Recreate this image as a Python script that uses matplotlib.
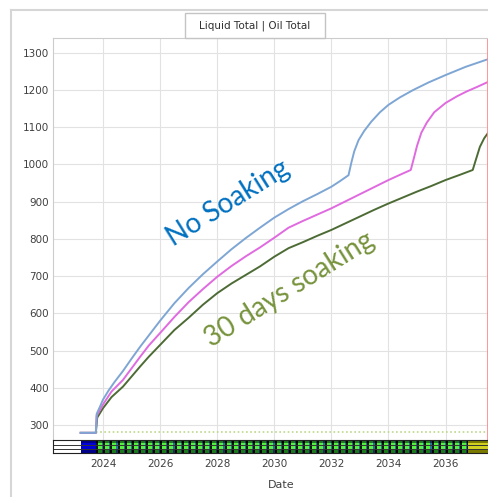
import numpy as np
import matplotlib
matplotlib.use("Agg")
import matplotlib.pyplot as plt
from matplotlib.patches import Rectangle
from matplotlib.lines import Line2D

# cumulative totals per case (decimal years)
no_soak_t = [2023.22, 2023.75, 2023.78, 2023.9, 2024.0, 2024.2, 2024.4, 2024.7, 2025.0,
             2025.3, 2025.6, 2026.0, 2026.5, 2027.0, 2027.5, 2028.0, 2028.5, 2029.0,
             2029.5, 2030.0, 2030.5, 2031.0, 2031.5, 2032.0, 2032.3, 2032.6, 2032.7,
             2032.8, 2032.95, 2033.15, 2033.4, 2033.7, 2034.0, 2034.4, 2034.87, 2035.4,
             2036.0, 2036.7, 2037.5]
no_soak_v = [279, 279, 330, 350, 368, 393, 415, 445, 478,
             510, 540, 580, 627, 668, 705, 739, 772, 802,
             830, 857, 880, 901, 920, 940, 955, 971, 1005,
             1035, 1065, 1090, 1115, 1140, 1160, 1180, 1200, 1220,
             1240, 1262, 1283]

mid_t = [2023.22, 2023.75, 2023.78, 2024.0, 2024.3, 2024.7, 2025.0, 2025.3, 2025.6,
         2026.0, 2026.5, 2027.0, 2027.5, 2028.0, 2028.5, 2029.0, 2029.5, 2030.0,
         2030.5, 2031.0, 2031.5, 2032.0, 2032.5, 2033.0, 2033.5, 2034.0, 2034.4,
         2034.78, 2034.9, 2035.0, 2035.15, 2035.34, 2035.6, 2036.0, 2036.4, 2036.74,
         2037.1, 2037.5]
mid_v = [279, 279, 325, 355, 390, 421, 452, 483, 513,
         547, 590, 630, 665, 698, 727, 753, 777, 803,
         830, 848, 865, 882, 901, 920, 939, 958, 972,
         985, 1020, 1050, 1085, 1112, 1140, 1165, 1183, 1196,
         1208, 1222]

soak30_t = [2023.22, 2023.75, 2023.8, 2024.0, 2024.3, 2024.7, 2025.0, 2025.3, 2025.6,
            2026.0, 2026.5, 2027.0, 2027.5, 2028.0, 2028.5, 2029.0, 2029.5, 2030.0,
            2030.5, 2031.0, 2031.5, 2032.0, 2032.5, 2033.0, 2033.5, 2034.0, 2034.5,
            2035.0, 2035.5, 2036.0, 2036.5, 2036.95, 2037.05, 2037.2, 2037.35, 2037.5]
soak30_v = [279, 279, 320, 345, 375, 403, 430, 457, 483,
            515, 555, 588, 623, 654, 680, 703, 726, 752,
            775, 791, 808, 824, 842, 860, 878, 895, 911,
            927, 942, 958, 972, 985, 1010, 1047, 1070, 1086]

baseline_level = 281
baseline_start = 2023.75

# well status schedule for the strip under the plot
first_open = (2023.22, 2023.76)
cycle_start, cycle_end, cycle_len = 2023.76, 2036.8, 0.25

x_ticks = [2024, 2026, 2028, 2030, 2032, 2034, 2036]
y_ticks = [300, 400, 500, 600, 700, 800, 900, 1000, 1100, 1200, 1300]
x_range = (2022.25, 2037.625)
y_range = (259.7, 1339.5)
end_marker = 2037.47

W, H = 489, 497
fig = plt.figure(figsize=(W / 100, H / 100), dpi=100)
fig.patch.set_facecolor("white")


def fx(px):
    return px / W


def fy(py):
    return 1 - py / H


ax = fig.add_axes([fx(53), fy(440), fx(492) - fx(53), fy(38) - fy(440)])
ax.set_xlim(*x_range)
ax.set_ylim(*y_range)
ax.set_xticks(x_ticks)
ax.set_yticks(y_ticks)
ax.tick_params(axis="x", labelbottom=False, length=0)
ax.tick_params(axis="y", length=0, pad=3, labelsize=7.5, labelcolor="#404040")
ax.grid(True, color="#e2e2e2", lw=0.8)
ax.set_axisbelow(True)
for side in ["right", "bottom"]:
    ax.spines[side].set_visible(False)
for side in ["left", "top"]:
    ax.spines[side].set_color("#cccccc")

ax.plot([baseline_start, x_range[1]], [baseline_level, baseline_level],
        color="#bcd88a", lw=1.2, ls=(0, (1, 1.5)))
ax.plot(soak30_t, soak30_v, color="#4d6b35", lw=1.4)
ax.plot(mid_t, mid_v, color="#e06ae0", lw=1.4)
ax.plot(no_soak_t, no_soak_v, color="#7ea6d4", lw=1.4)
ax.axvline(end_marker, color="#ff8c8c", lw=2)

ax.text(2028.38, 896, "No Soaking", color="#0070c0", fontsize=20, family="Lato",
        rotation=32, ha="center", va="center", rotation_mode="anchor")
ax.text(2030.55, 663, "30 days soaking", color="#77933c", fontsize=20, family="Lato",
        rotation=32, ha="center", va="center", rotation_mode="anchor")

# status strip
sx = fig.add_axes([fx(53), fy(453), fx(492) - fx(53), fy(440) - fy(453)])
sx.set_xlim(*x_range)
sx.set_ylim(0, 1)
sx.set_yticks([])
sx.set_xticks(x_ticks)
sx.tick_params(axis="x", length=0, pad=4, labelsize=7.5, labelcolor="#404040")
for side in sx.spines.values():
    side.set_color("#222222")
    side.set_linewidth(0.8)
for yy in [0.3, 0.62]:
    sx.axhline(yy, color="#333333", lw=0.7)


def band(ax_, x0, x1, dark, light):
    ax_.add_patch(Rectangle((x0, 0), x1 - x0, 1, color=dark, lw=0))
    ax_.add_patch(Rectangle((x0, 0.22), x1 - x0, 0.56, color=light, lw=0))


band(sx, first_open[0], first_open[1], "#00008a", "#0000d8")
starts = np.arange(cycle_start, cycle_end - 1e-6, cycle_len)
for s in starts:
    e = min(s + cycle_len, cycle_end)
    band(sx, s, s + 0.07, "#000000", "#0a1a10")
    band(sx, s + 0.07, s + 0.21, "#1c7a1c", "#55f040")
    band(sx, s + 0.21, e, "#14305a", "#2a70a0")
band(sx, cycle_end, x_range[1], "#7a7a00", "#d0d020")

fig.text(fx(281), fy(485), "Date", ha="center", va="center", fontsize=8, color="#404040")

# header box and outer frame
fig.add_artist(Rectangle((fx(185), fy(38)), fx(325) - fx(185), fy(13) - fy(38),
                         transform=fig.transFigure, facecolor="white",
                         edgecolor="#c4c4c4", lw=1))
fig.text(fx(255), fy(26), "Liquid Total | Oil Total", ha="center", va="center",
         fontsize=7.5, color="#303030")
fig.add_artist(Line2D([fx(11), fx(11)], [0, fy(10)], transform=fig.transFigure,
                      color="#d6d6d6", lw=1.5))
fig.add_artist(Line2D([fx(11), 1], [fy(10), fy(10)], transform=fig.transFigure,
                      color="#d6d6d6", lw=1.5))

fig.savefig("out.png", dpi=100)
